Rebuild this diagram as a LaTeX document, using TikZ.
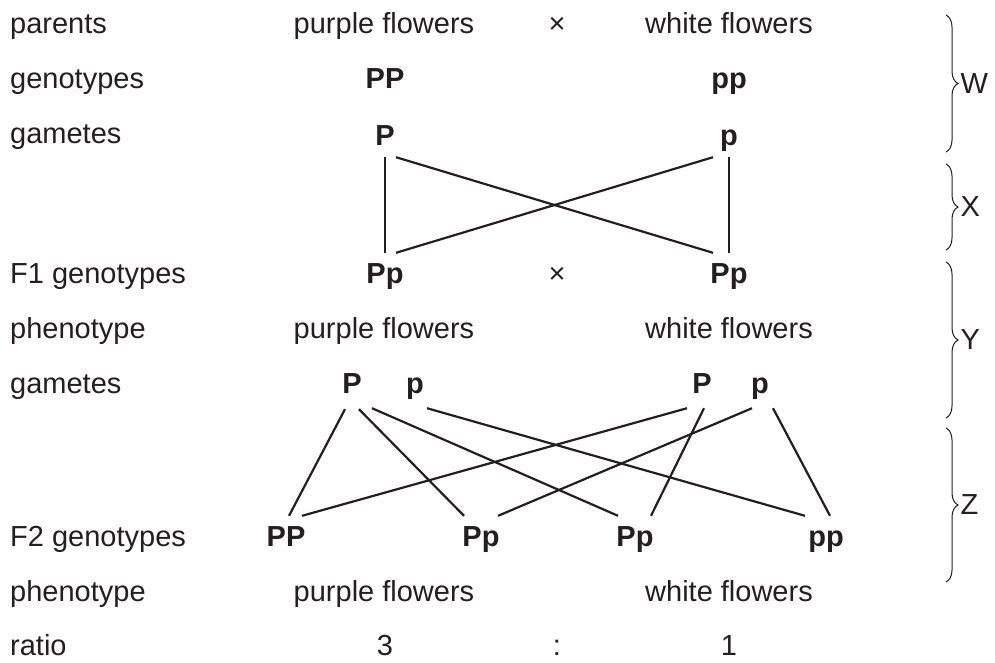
\documentclass[tikz,border=0pt]{standalone}
\usepackage{fontspec}
\setmainfont{Liberation Sans}
\usetikzlibrary{decorations.pathreplacing}
\definecolor{ink}{HTML}{231F20}
\begin{document}
\begin{tikzpicture}[x=1pt,y=-1pt,
  every node/.style={inner sep=0pt, text=ink, font=\fontsize{29}{34}\selectfont},
  lbl/.style={anchor=base west},
  txt/.style={anchor=base},
  gene/.style={anchor=base, font=\fontsize{29}{34}\selectfont\bfseries, text height=21pt, text depth=6pt, inner xsep=3pt, inner ysep=0pt},
  link/.style={draw=ink, line width=2.2pt},
  brc/.style={draw=ink, line width=1pt, decorate, decoration={brace, amplitude=12pt}},
  blet/.style={anchor=west}]
\useasboundingbox (0,0) rectangle (995,662);
% left labels
\node[lbl] (l1) at (10,33) {parents};
\node[lbl] (l2) at (10,88) {genotypes};
\node[lbl] (l3) at (10,143) {gametes};
\node[lbl] (l4) at (10,283) {F1 genotypes};
\node[lbl] (l5) at (10,338) {phenotype};
\node[lbl] (l6) at (10,393) {gametes};
\node[lbl] (l7) at (10,546) {F2 genotypes};
\node[lbl] (l8) at (10,601) {phenotype};
\node[lbl] (l9) at (10,655) {ratio};
% parents
\node[txt] (pf1) at (384,33) {purple flowers};
\node[txt] (x1) at (557,33) {×};
\node[txt] (wf1) at (729,33) {white flowers};
\node[gene] (gPP) at (385,88) {PP};
\node[gene] (gpp) at (729,88) {pp};
\node[gene] (gaP) at (385,145) {P};
\node[gene] (gap) at (729,145) {p};
% F1
\node[gene] (f1a) at (385,283) {Pp};
\node[txt] (x2) at (557,283) {×};
\node[gene] (f1b) at (729,283) {Pp};
\node[txt] (pf2) at (384,338) {purple flowers};
\node[txt] (wf2) at (729,338) {white flowers};
\node[gene] (g2P) at (352,393) {P};
\node[gene] (g2p) at (415,393) {p};
\node[gene] (g3P) at (702,393) {P};
\node[gene] (g3p) at (760,393) {p};
% F2
\node[gene] (f2a) at (286,546) {PP};
\node[gene] (f2b) at (481,546) {Pp};
\node[gene] (f2c) at (635,546) {Pp};
\node[gene] (f2d) at (826,546) {pp};
\node[txt] (pf3) at (384,601) {purple flowers};
\node[txt] (wf3) at (729,601) {white flowers};
\node[txt] (r3) at (385,655) {3};
\node[txt] (rc) at (557,655) {:};
\node[txt] (r1) at (729,655) {1};
% F1 connectors
\draw[link] ([yshift=-6pt]gaP.south) -- ([yshift=9pt]f1a.north);
\draw[link] ([xshift=11pt,yshift=-6pt]gaP.south) -- ([xshift=-16pt,yshift=9pt]f1b.north);
\draw[link] ([xshift=-16pt,yshift=-6pt]gap.south) -- ([xshift=11pt,yshift=9pt]f1a.north);
\draw[link] ([yshift=-6pt]gap.south) -- ([yshift=9pt]f1b.north);
% F2 connectors
\draw[link] ([xshift=-7pt,yshift=-10pt]g2P.south) -- ([xshift=3pt,yshift=9pt]f2a.north);
\draw[link] ([xshift=7pt,yshift=-10pt]g2P.south) -- ([xshift=-17pt,yshift=9pt]f2b.north);
\draw[link] ([xshift=20pt,yshift=-9pt]g2P.south) -- ([xshift=-17pt,yshift=9pt]f2c.north);
\draw[link] ([xshift=12pt,yshift=-9pt]g2p.south) -- ([xshift=-21pt,yshift=9pt]f2d.north);
\draw[link] ([xshift=-15pt,yshift=-9pt]g3P.south) -- ([xshift=16pt,yshift=9pt]f2a.north);
\draw[link] ([xshift=2pt,yshift=-9pt]g3P.south) -- ([xshift=16pt,yshift=9pt]f2c.north);
\draw[link] ([xshift=-8pt,yshift=-9pt]g3p.south) -- ([xshift=17pt,yshift=9pt]f2b.north);
\draw[link] ([xshift=13pt,yshift=-9pt]g3p.south) -- ([xshift=4pt,yshift=9pt]f2d.north);
% braces
\coordinate (wt) at (946,15); \coordinate (wb) at (946,152);
\coordinate (xt) at (946,164); \coordinate (xb) at (946,250);
\coordinate (yt) at (946,262); \coordinate (yb) at (946,418);
\coordinate (zt) at (946,428); \coordinate (zb) at (946,582);
\draw[brc] (wt) -- (wb) node[midway, blet, xshift=14pt] (W) {W};
\draw[brc] (xt) -- (xb) node[midway, blet, xshift=14pt] (X) {X};
\draw[brc] (yt) -- (yb) node[midway, blet, xshift=14pt] (Y) {Y};
\draw[brc] (zt) -- (zb) node[midway, blet, xshift=14pt] (Z) {Z};
\end{tikzpicture}
\end{document}
